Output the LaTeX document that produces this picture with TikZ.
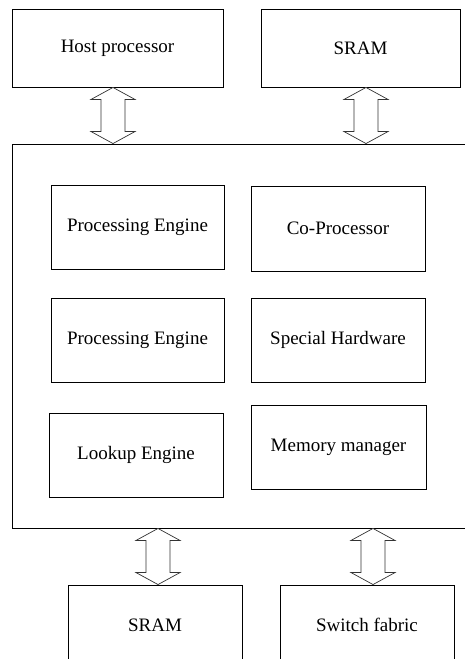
\documentclass[tikz,border=0pt]{standalone}
\usepackage{fontspec}
\setmainfont{Liberation Serif}
\usetikzlibrary{calc}
\newcommand{\busarrow}[2]{%
  \draw[bus] let \p1=(#1), \p2=(#2) in
    (\x1,\y1) -- (\x1+22pt,\y1-12pt) -- (\x1+12pt,\y1-12pt) -- (\x1+12pt,\y2+12pt)
    -- (\x1+22pt,\y2+12pt) -- (\x1,\y2) -- (\x1-22pt,\y2+12pt) -- (\x1-12pt,\y2+12pt)
    -- (\x1-12pt,\y1-12pt) -- (\x1-22pt,\y1-12pt) -- cycle;}
\begin{document}
\begin{tikzpicture}[x=1pt, y=-1pt,
  box/.style={draw, line width=0.9pt, inner sep=0pt, font=\fontsize{19}{22}\selectfont},
  bus/.style={draw=black!80, line width=0.7pt, fill=white}]
\useasboundingbox (0,0) rectangle (465,659);
\clip (0,0) rectangle (465,659);
\node[box, minimum width=211, minimum height=78] (host) at (117.5,48) {Host processor};
\node[box, minimum width=199, minimum height=78] (sram1) at (360.5,48) {SRAM};
\node[box, minimum width=463, minimum height=384] (chip) at (243.5,336) {};
\node[box, minimum width=173, minimum height=84] (pe1) at (137.5,227) {Processing Engine};
\node[box, minimum width=174, minimum height=85] (copro) at (338,228.5) {Co-Processor};
\node[box, minimum width=173, minimum height=84] (pe2) at (137.5,340) {Processing Engine};
\node[box, minimum width=174, minimum height=84] (special) at (338,340) {Special Hardware};
\node[box, minimum width=174, minimum height=84] (lookup) at (136,455) {Lookup Engine};
\node[box, minimum width=175, minimum height=84] (memory) at (338.5,447) {Memory manager};
\node[box, minimum width=174, minimum height=80] (sram2) at (155,625) {SRAM};
\node[box, minimum width=174, minimum height=80] (switch) at (367,625) {Switch fabric};
% buses
\busarrow{$(host.south)+(-4.5,0)$}{chip.north}
\busarrow{$(sram1.south)+(5.5,0)$}{chip.north}
\busarrow{$(chip.south -| sram2.north)+(3,0)$}{sram2.north}
\busarrow{$(chip.south -| switch.north)+(6,0)$}{switch.north}
\end{tikzpicture}
\end{document}
